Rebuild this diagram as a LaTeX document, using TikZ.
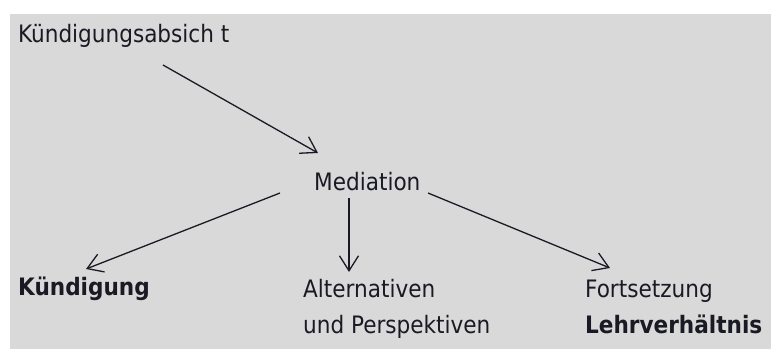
\documentclass[tikz,border=0pt]{standalone}
\usepackage{fontspec}
\setmainfont{DejaVu Sans Condensed}
\usetikzlibrary{arrows.meta}
\definecolor{panelgray}{HTML}{D9D9D9}
\definecolor{inkdark}{HTML}{1A1A24}

\tikzset{
  ->/.style={draw=inkdark,line width=1.3pt,-{Straight Barb[length=15pt,width=19pt,line width=1.3pt]}}
}
\tikzstyle{every node}=[color=inkdark,inner sep=0pt,anchor=base west,
  font=\fontsize{24}{36}\selectfont]

\begin{document}
\begin{tikzpicture}[x=1pt,y=-1pt]
    \useasboundingbox (0,0) rectangle (771,349);
    \fill[panelgray] (10,14) rectangle (771,349);
    \node (absicht) at (18,42) {Kündigungsabsich t};
    \node (mediation) at (314,190) {Mediation};
    \node (kuend) at (18,295) {\bfseries Kündigung};
    % base of a two-line node is its last line
    \node[align=left] (altern) at (303,333) {Alternativen\\und Perspektiven};
    \node[align=left] (fortsetz) at (585,333) {Fortsetzung\\\bfseries Lehrverhältnis};
    \draw[->] ([xshift=145pt,yshift=-23pt]absicht.base west) -- ([xshift=4pt,yshift=37pt]mediation.base west);
    \draw[->] ([xshift=-34pt,yshift=-3pt]mediation.base west) -- ([xshift=68pt,yshift=26pt]kuend.base west);
    \draw[->] ([xshift=35pt,yshift=-8pt]mediation.base west) -- ([xshift=46pt,yshift=61pt]altern.base west);
    \draw[->] ([xshift=114pt,yshift=-3pt]mediation.base west) -- ([xshift=25pt,yshift=65pt]fortsetz.base west);
\end{tikzpicture}
\end{document}
